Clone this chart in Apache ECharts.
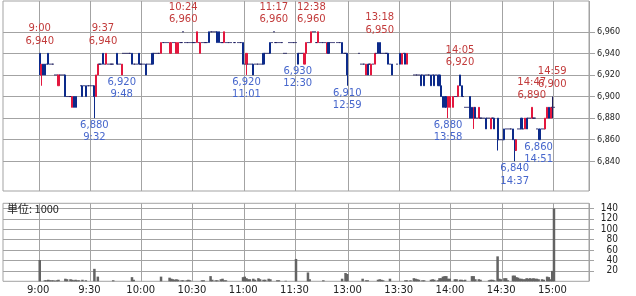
<!DOCTYPE html>
<html><head><meta charset="utf-8">
<script src="https://cdn.jsdelivr.net/npm/echarts@6/dist/echarts.min.js"></script>
<style>html,body{margin:0;padding:0;background:#fff}#c{width:636px;height:296px}</style>
</head><body><div id="c"></div><script>
// ---- data ----
// one entry per minute, 9:00..11:30 then 12:30..15:00; [open, close, low, high];
// a single number = trade(s) at one price only; null = no trade
const ohlc = [
// 9:00
[6940,6920,6920,6940],[6920,6930,6910,6930],[6930,6920,6920,6930],[6930,6920,6920,6930],6930,[6940,6930,6930,6940],6930,6930,6930,6920,
// 9:10
6920,[6910,6920,6910,6920],6920,6920,6920,[6920,6900,6900,6920],6900,6900,6900,[6890,6900,6890,6900],
// 9:20
[6900,6890,6890,6900],[6900,6890,6890,6900],null,null,6910,[6910,6900,6900,6910],6910,[6910,6900,6900,6910],6910,6910,
// 9:30
6910,6910,[6910,6900,6880,6910],[6900,6920,6900,6920],[6920,6930,6920,6930],6930,6930,[6940,6930,6930,6940],6930,[6930,6940,6930,6940],
// 9:40
6930,6930,6930,6930,null,[6940,6930,6930,6940],6930,6930,[6920,6930,6920,6930],6940,
// 9:50
6940,6940,6940,6940,[6940,6930,6930,6940],6930,6930,6930,[6940,6930,6930,6940],6930,
// 10:00
6930,6930,[6930,6920,6920,6930],6930,6930,6930,[6940,6930,6930,6940],6940,6940,6940,
// 10:10
6940,[6940,6950,6940,6950],6950,6950,6950,6950,[6940,6950,6940,6950],[6940,6950,6940,6950],6950,6950,
// 10:20
[6940,6950,6940,6950],[6940,6950,6940,6950],6950,6950,6960,6950,6950,6950,6950,6950,
// 10:30
6950,6950,[6950,6960,6950,6960],6950,[6940,6950,6940,6950],6950,6950,6950,6950,[6960,6950,6950,6960],
// 10:40
6960,6960,6960,6960,[6960,6950,6950,6960],[6960,6950,6950,6960],6950,6950,[6950,6960,6950,6960],6950,
// 10:50
6950,6950,6950,null,6950,null,6950,6950,6950,[6950,6930,6930,6950],
// 11:00
6930,[6930,6940,6920,6940],6930,6930,6930,[6930,6920,6920,6930],6930,6930,6930,6930,
// 11:10
6930,[6940,6930,6930,6940],6940,6940,6940,[6950,6940,6940,6950],6950,6960,6950,6950,
// 11:20
6950,6950,6950,6940,6940,null,6950,6950,6950,6950,
// 11:30
6950,
// 12:30
[6940,6930,6930,6940],6940,6940,6940,[6930,6940,6930,6940],[6940,6950,6940,6950],6950,6950,[6950,6960,6950,6960],6960,
// 12:40
6960,6950,[6950,6960,6950,6960],6950,6950,6950,6950,[6940,6950,6940,6950],[6950,6940,6940,6950],6950,
// 12:50
6950,6950,null,6950,6950,6950,[6950,6940,6940,6950],6940,6940,[6940,6920,6910,6940],
// 13:00
null,null,null,null,null,null,6940,6930,6930,6930,
// 13:10
[6920,6930,6920,6930],[6930,6920,6920,6930],6930,[6920,6930,6920,6930],6930,[6930,6940,6930,6940],6940,[6950,6940,6940,6950],[6950,6940,6940,6950],6940,
// 13:20
6940,6940,6940,[6940,6930,6930,6940],6930,[6930,6920,6920,6930],null,null,6930,null,
// 13:30
[6940,6930,6930,6940],[6930,6940,6930,6940],6940,[6940,6930,6930,6940],[6930,6940,6930,6940],null,null,null,6920,6920,
// 13:40
6920,6920,[6920,6910,6910,6920],6920,[6920,6910,6910,6920],6920,6920,6920,[6920,6910,6910,6920],6920,
// 13:50
[6920,6910,6910,6920],6920,[6920,6910,6910,6920],[6920,6910,6910,6920],[6910,6900,6900,6910],[6900,6890,6890,6900],[6900,6890,6890,6900],[6900,6890,6890,6900],[6890,6900,6880,6900],[6890,6900,6890,6900],
// 14:00
null,[6890,6900,6890,6900],6900,6900,[6900,6910,6900,6910],[6920,6910,6910,6920],[6910,6900,6900,6910],6900,6890,6890,
// 14:10
6890,[6900,6880,6880,6900],[6890,6880,6880,6890],[6880,6890,6870,6890],[6890,6880,6880,6890],6880,[6880,6890,6880,6890],6880,6880,6880,
// 14:20
[6880,6870,6870,6880],6880,6880,[6870,6880,6870,6880],6880,[6880,6870,6870,6880],null,[6880,6860,6850,6880],6860,6860,
// 14:30
6860,[6870,6860,6860,6870],6870,6870,6870,6870,[6870,6860,6860,6870],[6860,6850,6840,6860],[6850,6860,6850,6860],6870,
// 14:40
6870,[6880,6870,6870,6880],6870,[6870,6880,6870,6880],[6880,6870,6870,6880],6880,6880,[6880,6890,6880,6890],6880,6880,
// 14:50
6870,[6870,6860,6860,6870],[6870,6860,6860,6870],6870,6870,[6870,6880,6870,6880],[6880,6890,6880,6890],[6890,6880,6880,6890],[6880,6890,6880,6890],[6890,6890,6880,6900],
// 15:00
6890
];
// volume per minute (unit: 1000 shares)
const volume = [
41,0,0,2,2,3,2,2,2,1,
2,3,0,0,0,5,4,0,4,3,
2,3,2,2,0,3,0,2,0,0,
0,0,24,0,9,0,0,0,0,0,
0,0,0,2,0,0,0,0,0,0,
0,0,0,0,8,3,0,0,0,0,
0,0,0,0,0,0,0,0,0,0,
0,9,0,0,0,0,7,5,4,3,
4,3,0,2,2,0,2,3,2,0,
0,0,0,0,0,2,2,0,0,0,
10,3,0,2,2,0,4,5,2,2,
0,0,0,0,0,0,0,0,0,8,
9,6,4,4,0,5,3,0,6,4,
0,3,3,0,5,4,0,0,0,2,
2,0,0,0,1,0,0,0,0,0,
43,0,0,0,0,0,0,17,4,0,
0,0,0,0,0,0,2,0,0,0,
0,0,0,0,0,0,0,5,0,16,
14,0,0,0,0,0,0,0,0,5,
0,2,2,0,0,0,0,0,3,4,
3,2,0,0,0,5,0,0,0,0,
0,0,0,0,2,2,0,2,0,6,
5,4,3,0,2,2,0,0,0,3,
4,3,0,2,6,6,9,10,10,5,
5,0,0,4,4,0,3,3,2,3,
0,0,0,10,10,4,0,4,3,0,
0,0,0,2,3,3,2,0,48,5,
4,0,6,6,2,0,0,11,11,8,
7,5,5,4,4,6,5,6,5,6,
5,5,4,0,4,3,0,9,8,4,
20,140
];
const timeLabels = ['9:00','9:30','10:00','10:30','11:00','11:30','13:00','13:30','14:00','14:30','15:00'];
const priceTicks = [6840,6860,6880,6900,6920,6940,6960];
const volumeTicks = [20,40,60,80,100,120,140];
const highTimes = ['9:00','9:37','10:24','11:17','12:38','13:18','14:05','14:47','14:59'];
const highPrices = [6940,6940,6960,6960,6960,6950,6920,6890,6900];
const lowTimes = ['9:32','9:48','11:01','12:30','12:59','13:58','14:37','14:51'];
const lowPrices = [6880,6920,6920,6930,6910,6880,6840,6860];

// ---- build categories ----
const fmt = m => Math.floor(m/60) + ':' + String(m%60).padStart(2,'0');
const sessionTimes = [];
for (let m = 9*60; m <= 11*60+30; m++) sessionTimes.push(fmt(m));
for (let m = 12*60+30; m <= 15*60; m++) sessionTimes.push(fmt(m));
const PAD_L = 21, PAD_R = 20;
const padL = [], padR = [];
for (let i = PAD_L; i >= 1; i--) padL.push(fmt(9*60 - i));
for (let i = 1; i <= PAD_R; i++) padR.push(fmt(15*60 + i));
const cats = padL.concat(sessionTimes, padR);
const blankL = padL.map(() => '-'), blankR = padR.map(() => '-');
const candleData = blankL.concat(ohlc.map(v => v == null ? ['-','-','-','-'] : (typeof v === 'number' ? [v,v,v,v] : v)), blankR);
const volData = blankL.concat(volume, blankR);

const comma = v => String(v).replace(/\B(?=(\d{3})+(?!\d))/g, ',');
const isTickCat = (i, v) => timeLabels.indexOf(v) >= 0;

const GRID = '#a3a3a3';
const RED = '#e3173e', BLUE = '#0c2a8a', DOJI = '#1d1d5e';
const RED_TXT = '#c23a3a', BLUE_TXT = '#4666cc';

const markData = [];
highTimes.forEach((t, i) => markData.push({
  coord: [t, highPrices[i]],
  label: {position: 'top', distance: 6, color: RED_TXT, formatter: t + '\n' + comma(highPrices[i])}
}));
lowTimes.forEach((t, i) => markData.push({
  coord: [t, lowPrices[i]],
  label: {position: 'bottom', distance: 1, color: BLUE_TXT, formatter: comma(lowPrices[i]) + '\n' + t}
}));

const chart = echarts.init(document.getElementById('c'), null, {renderer: 'canvas'});
chart.setOption({
  animation: false,
  backgroundColor: '#fff',
  grid: [
    {left: 3, top: 1, width: 586, height: 190, show: true, borderColor: GRID, borderWidth: 1},
    {left: 3, top: 203.3, width: 586, height: 78, show: true, borderColor: GRID, borderWidth: 1}
  ],
  graphic: [{
    type: 'text', left: 7, top: 203, z: 100,
    style: {text: '単位: 1000', fontSize: 11, fontFamily: '"Noto Sans CJK JP", "DejaVu Sans"', fill: '#222'}
  }],
  xAxis: [
    {type: 'category', gridIndex: 0, data: cats, boundaryGap: true,
     axisLine: {show: false}, axisTick: {show: false}, axisLabel: {show: false},
     splitLine: {show: true, interval: isTickCat, lineStyle: {color: GRID, width: 1}}},
    {type: 'category', gridIndex: 1, data: cats, boundaryGap: true,
     axisLine: {show: false}, axisTick: {show: false},
     axisLabel: {show: true, interval: isTickCat, margin: 4, fontSize: 10, fontFamily: 'DejaVu Sans', color: '#222', padding: [0, 3, 0, 0]},
     splitLine: {show: true, interval: isTickCat, lineStyle: {color: GRID, width: 1}}}
  ],
  yAxis: [
    {type: 'value', gridIndex: 0, position: 'right', min: 6812.5, max: 6988.5, scale: true,
     axisLine: {show: false},
     axisTick: {show: true, inside: false, length: 6, customValues: priceTicks, lineStyle: {color: GRID}},
     axisLabel: {show: true, customValues: priceTicks, margin: 8, fontSize: 9, fontFamily: '"DejaVu Sans Condensed", "DejaVu Sans"', color: '#222', formatter: v => comma(v)},
     splitLine: {show: true, lineStyle: {color: GRID, width: 1}}},
    {type: 'value', gridIndex: 1, position: 'right', min: 0, max: 150,
     axisLine: {show: false},
     axisTick: {show: true, inside: false, length: 5, customValues: volumeTicks, lineStyle: {color: GRID}},
     axisLabel: {show: true, customValues: volumeTicks, margin: 29, align: 'right', fontSize: 10, fontFamily: '"DejaVu Sans Condensed", "DejaVu Sans"', color: '#222'},
     splitLine: {show: true, lineStyle: {color: GRID, width: 1}}}
  ],
  series: [
    {type: 'candlestick', xAxisIndex: 0, yAxisIndex: 0, data: candleData, barWidth: 1.6,
     itemStyle: {color: RED, color0: BLUE, borderColor: RED, borderColor0: BLUE, borderColorDoji: DOJI, borderWidth: 1},
     markPoint: {symbol: 'circle', symbolSize: 0, silent: true,
       label: {show: true, fontSize: 10, fontFamily: 'DejaVu Sans', lineHeight: 12.5, align: 'center'},
       data: markData}},
    {type: 'bar', xAxisIndex: 1, yAxisIndex: 1, data: volData, barWidth: 2.5,
     itemStyle: {color: '#636363'}}
  ]
});
</script></body></html>
